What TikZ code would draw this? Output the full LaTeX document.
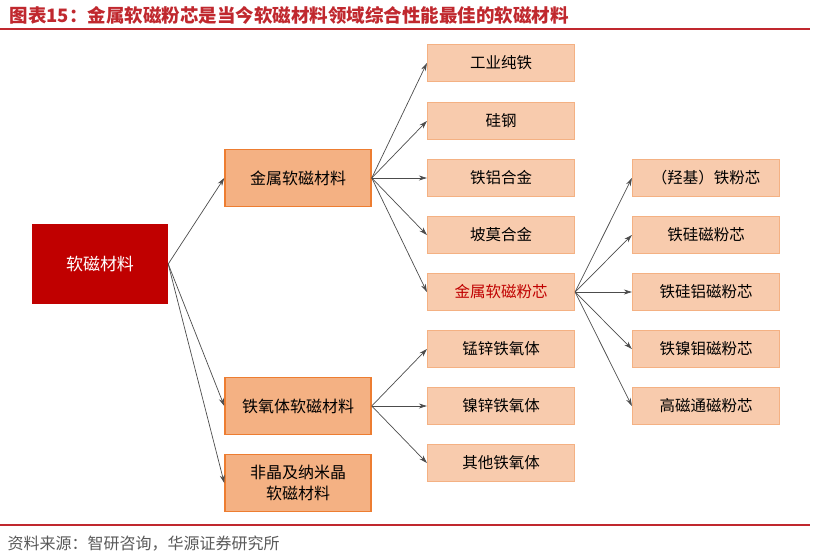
\documentclass[tikz,border=0pt]{standalone}
\usepackage{fontspec}
\setmainfont{Noto Sans CJK SC}
\usetikzlibrary{arrows.meta}
\definecolor{dred}{HTML}{C00000}
\definecolor{tred}{HTML}{C0282E}
\definecolor{mid}{HTML}{F4B183}
\definecolor{org}{HTML}{ED7D31}
\definecolor{lite}{HTML}{F8CBAD}
\begin{document}
\begin{tikzpicture}[x=1pt,y=-1pt,
  root/.style={fill=dred,text=white,minimum width=136pt,minimum height=80pt,font=\fontsize{17}{20}\selectfont,inner sep=0},
  midbox/.style={fill=mid,draw=org,line width=1.5pt,minimum width=146pt,minimum height=57pt,font=\fontsize{16}{21}\selectfont,align=center,inner sep=0},
  leaf/.style={fill=lite,draw=mid,line width=1.2pt,minimum width=147pt,minimum height=37pt,font=\fontsize{15.5}{18}\selectfont,inner sep=0},
  con/.style={draw=black!70,line width=0.7pt,-{Stealth[length=8pt,width=5pt]}}]
\useasboundingbox (0,0) rectangle (815,558);
\node[anchor=west,text=tred,font=\fontsize{18.5}{22}\selectfont\bfseries] (title) at (6,15) {图表15：金属软磁粉芯是当今软磁材料领域综合性能最佳的软磁材料};
\draw[tred,line width=1.2pt] (0,29) -- (810,29);
\draw[tred,line width=1.2pt] (0,525) -- (810,525);
\node[anchor=west,text=black!65,font=\fontsize{16}{19}\selectfont] (src) at (4,544) {资料来源：智研咨询，华源证券研究所};
\node[root] (r) at (100,264) {软磁材料};
\node[midbox] (m1) at (298,178) {金属软磁材料};
\node[midbox] (m2) at (298,406) {铁氧体软磁材料};
\node[midbox] (m3) at (298,483) {非晶及纳米晶\\软磁材料};
\foreach \n/\y/\t in {a/63/工业纯铁,b/121/硅钢,c/178/铁铝合金,d/235/坡莫合金,e/292/{\textcolor{dred}{金属软磁粉芯}},f/349/锰锌铁氧体,g/406/镍锌铁氧体,h/463/其他铁氧体}
  \node[leaf] (\n) at (501,\y) {\t};
\foreach \n/\y/\t in {p/178/（羟基）铁粉芯,q/235/铁硅磁粉芯,s/292/铁硅铝磁粉芯,t/349/铁镍钼磁粉芯,u/406/高磁通磁粉芯}
  \node[leaf] (\n) at (706,\y) {\t};
\foreach \m in {m1,m2,m3} \draw[con] (r.east) -- (\m.west);
\foreach \m in {a,b,c,d,e} \draw[con] (m1.east) -- (\m.west);
\foreach \m in {f,g,h} \draw[con] (m2.east) -- (\m.west);
\foreach \m in {p,q,s,t,u} \draw[con] (e.east) -- (\m.west);
\end{tikzpicture}
\end{document}
